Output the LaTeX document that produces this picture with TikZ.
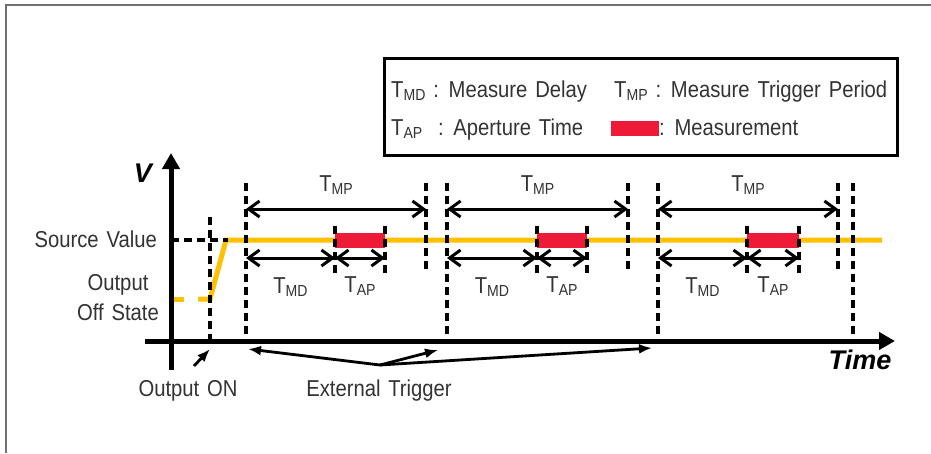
\documentclass[tikz,border=0pt]{standalone}
\usepackage{fontspec}
\setmainfont{Liberation Sans}[FakeStretch=0.88,WordSpace=1.4]
\newfontfamily\axisfont{Liberation Sans}
\usetikzlibrary{arrows.meta,calc}
\definecolor{gold}{HTML}{FFC000}
\definecolor{mred}{HTML}{EE1B38}
\definecolor{txt}{HTML}{333333}
\definecolor{framegray}{HTML}{707070}
\newcommand\sbs[1]{\raisebox{-0.17em}{\fontsize{16}{16}\selectfont #1}}
\begin{document}
\begin{tikzpicture}[x=1pt,y=-1pt,
  lbl/.style={font=\fontsize{23}{30}\selectfont,text=txt,inner sep=0pt},
  axlbl/.style={font=\axisfont\bfseries\itshape\fontsize{27}{30}\selectfont,inner sep=0pt},
  dsh/.style={line width=3.5pt,dash pattern=on 8pt off 5pt},
  dimarrow/.style={line width=3pt,{Straight Barb[length=11pt,width=16pt]}-{Straight Barb[length=11pt,width=16pt]}},
  ptr/.style={line width=2.8pt,-{Latex[length=13pt,width=10pt]}},
  axisline/.style={line width=5pt,-{Triangle[length=16pt,width=17pt]}},
  level/.style={gold,line width=5pt}]
\useasboundingbox (0,0) rectangle (931,453);
\fill[white] (0,0) rectangle (931,453);
% frame
\draw[framegray,line width=2pt] (6,453) -- (6,5) -- (931,5);
% legend
\node[draw,line width=3pt,minimum width=513pt,minimum height=97pt,inner sep=0pt] (legend) at (640.5,106.5) {};
\node[lbl,anchor=base west] (lmd) at (391,97) {T\sbs{MD} : Measure Delay};
\node[lbl,anchor=base west] (lmp) at (614,97) {T\sbs{MP} : Measure Trigger Period};
\node[lbl,anchor=base west] (lap) at (391,135) {T\sbs{AP}\ \ : Aperture Time};
\node[fill=mred,minimum width=48pt,minimum height=15pt,inner sep=0pt] (lred) at (635,128) {};
\node[lbl,anchor=base west] (lmeas) at (659,135) {: Measurement};
% signal level
\draw[level] (171,299) -- (184,299);
\draw[level] (198,299) -- (210,299) -- (226,240) -- (882,240);
% source value dashed
\coordinate (sv0) at (171,240); \coordinate (sv1) at (228,240);
\draw[dsh] (sv0) -- (sv1);
% output on line
\coordinate (on0) at (210,217); \coordinate (on1) at (210,340);
\draw[dsh] (on0) -- (on1);
% periods
\foreach \i/\t/\m/\s/\e in {1/246/426/335/385, 2/447/628/537/587, 3/658/838/747/799} {
  \fill[mred] (\s,233) rectangle (\e,248);
  \coordinate (trgA\i) at (\t,183); \coordinate (trgB\i) at (\t,340);
  \draw[dsh] (trgA\i) -- (trgB\i);
  \coordinate (endA\i) at (\m,183); \coordinate (endB\i) at (\m,273);
  \draw[dsh] (endA\i) -- (endB\i);
  \coordinate (msA\i) at (\s,226); \coordinate (msB\i) at (\s,275);
  \coordinate (meA\i) at (\e,226); \coordinate (meB\i) at (\e,275);
  \draw[dsh] (msA\i) -- (msB\i);
  \draw[dsh] (meA\i) -- (meB\i);
  \coordinate (mpL\i) at (\t,209); \coordinate (mpR\i) at (\m,209);
  \draw[dimarrow] (mpL\i) -- (mpR\i);
  \node[lbl,anchor=base] (tmp\i) at ($(mpL\i)!0.5!(mpR\i)+(0,-18)$) {T\sbs{MP}};
  \coordinate (mdL\i) at (\t,258); \coordinate (mdR\i) at (\s,258); \coordinate (apR\i) at (\e,258);
  \draw[dimarrow] (mdL\i) -- (mdR\i);
  \draw[dimarrow] (mdR\i) -- (apR\i);
  \node[lbl,anchor=base] (tmd\i) at ($(mdL\i)!0.5!(mdR\i)+(0,35)$) {T\sbs{MD}};
  \node[lbl,anchor=base] (tap\i) at ($(mdR\i)!0.5!(apR\i)+(0,34)$) {T\sbs{AP}};
}
\coordinate (trgA4) at (853,183); \coordinate (trgB4) at (853,340);
\draw[dsh] (trgA4) -- (trgB4);
% axes
\coordinate (yb) at (171,370); \coordinate (yt) at (171,153);
\draw[axisline] (yb) -- (yt);
\coordinate (xl) at (145,341); \coordinate (xr) at (895,341);
\draw[axisline] (xl) -- (xr);
\node[axlbl] (vlab) at (143,173) {V};
\node[axlbl] (tlab) at (860,360) {Time};
% left labels
\node[lbl,anchor=base east] (srcv) at (157,247) {Source Value};
\node[lbl,align=center] (offst) at (118,298) {Output\\Off State};
% bottom labels
\node[lbl,anchor=base] (oon) at (188,396) {Output ON};
\coordinate (oonS) at (194,366); \coordinate (oonE) at (210,349);
\draw[ptr] (oonS) -- (oonE);
\node[lbl,anchor=base] (ext) at (379,396) {External Trigger};
\coordinate (hub) at (380,365);
\coordinate (et1) at (248,349); \coordinate (et2) at (438,350); \coordinate (et3) at (652,348);
\draw[ptr] (hub) -- (et1);
\draw[ptr] (hub) -- (et2);
\draw[ptr] (hub) -- (et3);
\end{tikzpicture}
\end{document}
